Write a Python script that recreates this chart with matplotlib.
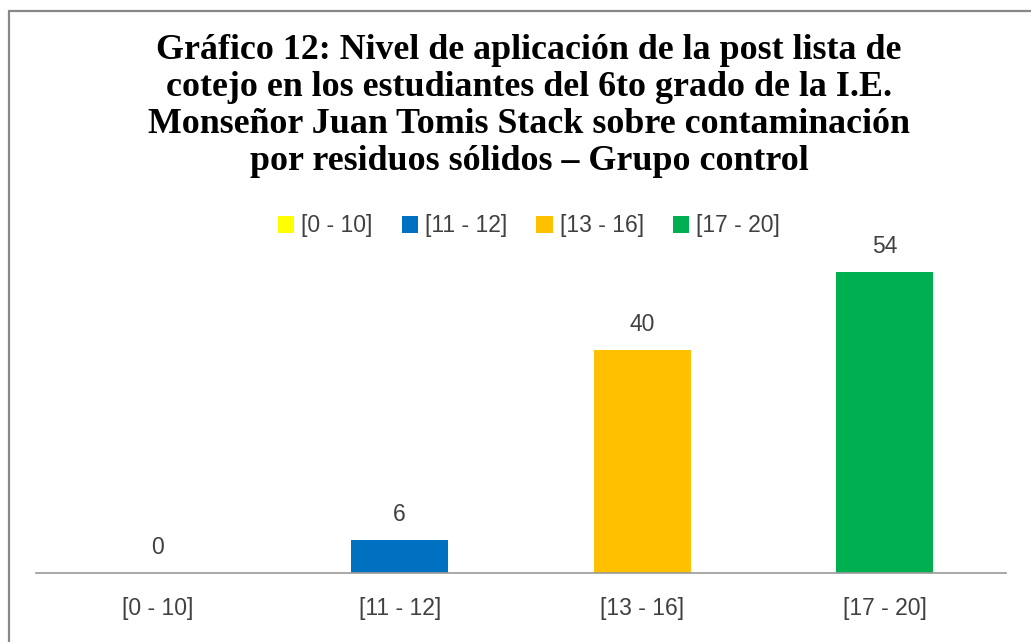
import matplotlib.pyplot as plt
from matplotlib.patches import Rectangle, Patch

categories = ['[0 - 10]', '[11 - 12]', '[13 - 16]', '[17 - 20]']
values = [0, 6, 40, 54]
colors = ['#FFFF00', '#0070C0', '#FFC000', '#00B050']
title = ('Gráfico 12: Nivel de aplicación de la post lista de\n'
         'cotejo en los estudiantes del 6to grado de la I.E.\n'
         'Monseñor Juan Tomis Stack sobre contaminación\n'
         'por residuos sólidos – Grupo control')

W, H = 1031, 642
fig = plt.figure(figsize=(W / 100, H / 100), dpi=100)
# chart frame: only left and top edges are visible
fig.patches.append(Rectangle((9 / W, -0.05), 1.1, 1.05 - 11 / H, transform=fig.transFigure,
                             fill=False, edgecolor='#888888', linewidth=1.6))

# axes: x 36..1006 px, baseline at y=573 px
ax = fig.add_axes([36 / W, (H - 573) / H, 970 / W, 335 / H])
x = range(len(categories))
ax.bar(x, values, width=0.4, color=colors)
ax.set_xlim(-0.5, len(categories) - 0.5)
ax.set_ylim(0, 60)
for xi, v in zip(x, values):
    ax.annotate(str(v), (xi, v), xytext=(0, 18), textcoords='offset points',
                ha='center', va='center', fontsize=16.5, color='#404040',
                family='Liberation Sans')

ax.set_xticks(list(x))
ax.set_xticklabels(categories, fontsize=16.5, color='#404040', family='Liberation Sans')
ax.tick_params(axis='x', length=0, pad=17.5)
ax.set_yticks([])
for s in ['top', 'right', 'left']:
    ax.spines[s].set_visible(False)
ax.spines['bottom'].set_color('#999999')
ax.spines['bottom'].set_linewidth(1.2)

fig.text(529 / W, 1 - 106 / H, title, ha='center', va='center', fontsize=25.8,
         fontweight='bold', family='Liberation Serif', linespacing=1.17)

handles = [Patch(facecolor=c) for c in colors]
fig.legend(handles, categories, loc='center', bbox_to_anchor=(529 / W, 1 - 226 / H),
           ncol=4, frameon=False, handlelength=0.72, handleheight=0.72,
           handletextpad=0.3, columnspacing=1.27,
           prop={'family': 'Liberation Sans', 'size': 16.5}, labelcolor='#404040')

fig.savefig('out.png', dpi=100)
